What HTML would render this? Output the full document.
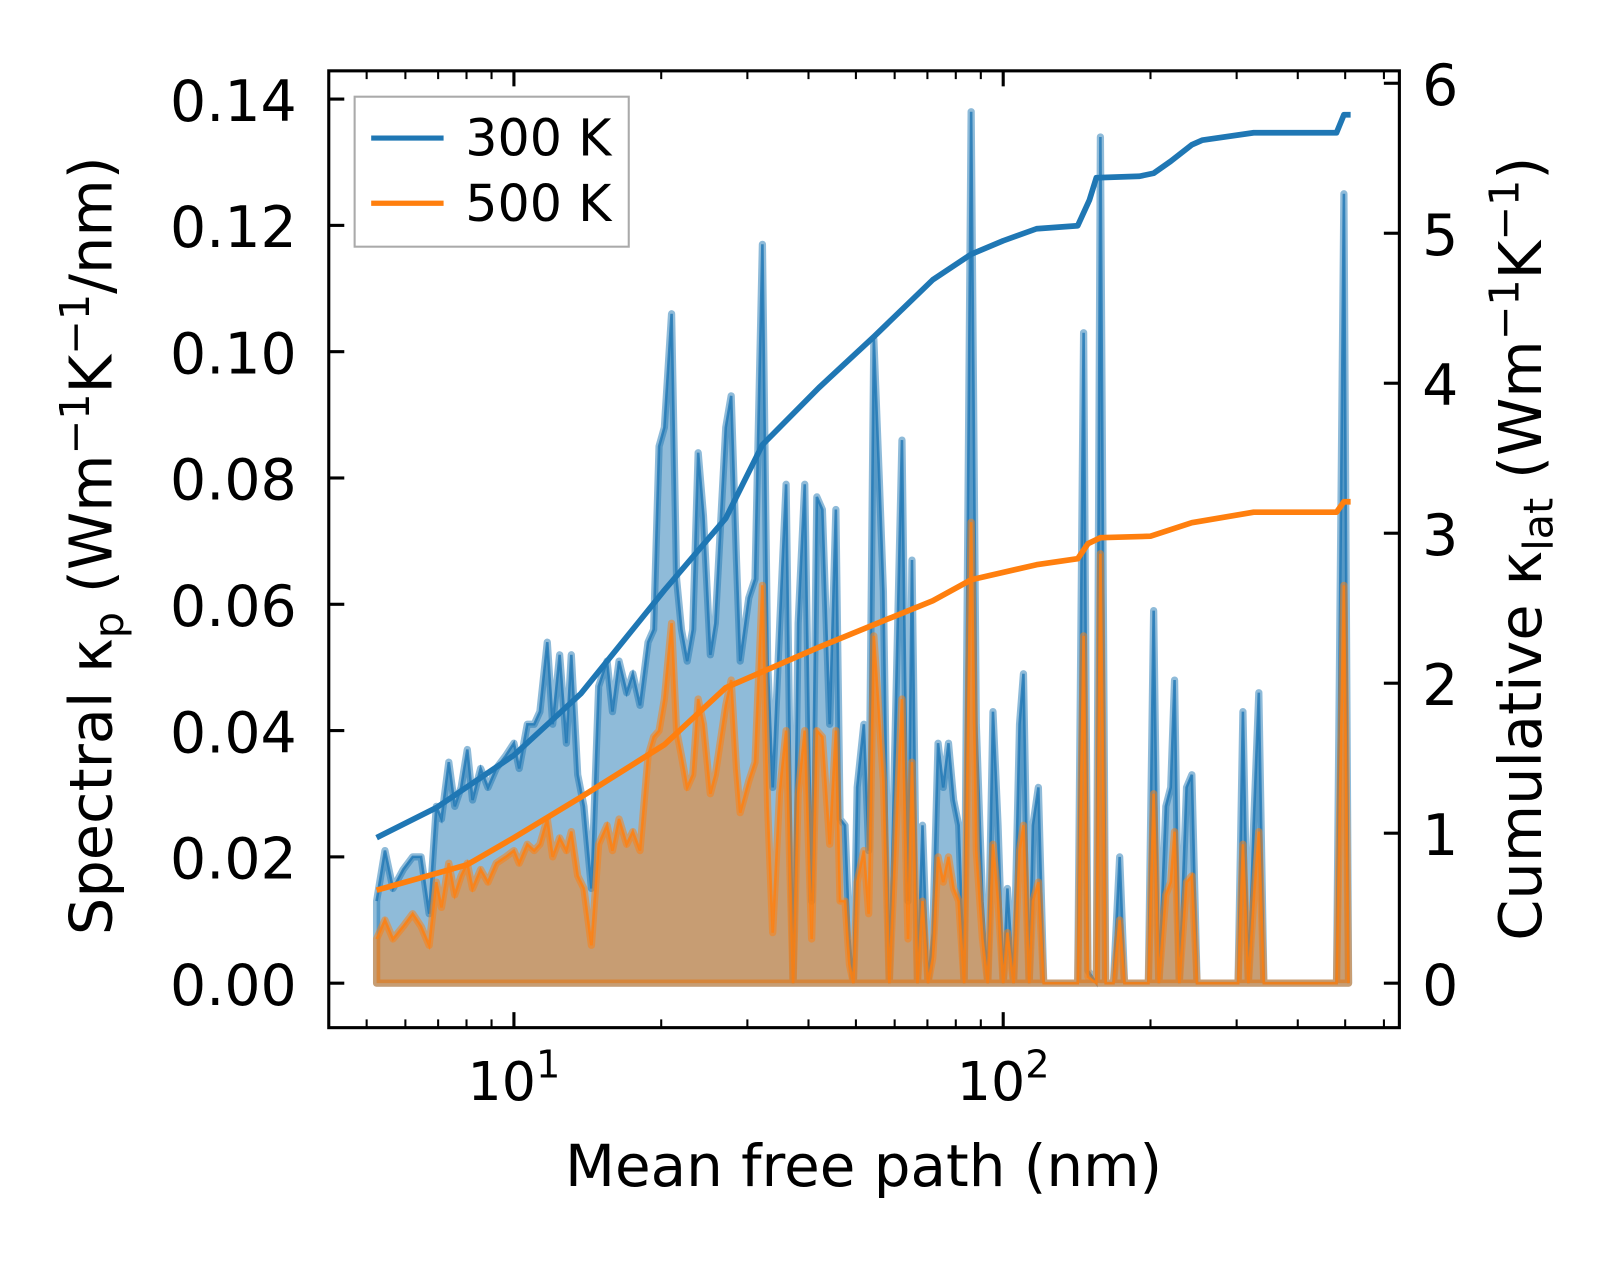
<!DOCTYPE html>
<html><head><meta charset="utf-8"><style>
body{margin:0;background:#fff}
svg text{font-family:"DejaVu Sans","Liberation Sans",sans-serif;fill:#000}
</style></head><body>
<svg id="chart" width="1623" height="1265" viewBox="0 0 1623 1265" xmlns="http://www.w3.org/2000/svg">
<g id="plot" transform="translate(1.9,0.5) scale(1.0344)"></g>
</svg>
<script>
const mfp=[5.24,5.45,5.66,5.94,6.21,6.46,6.71,6.94,7.11,7.36,7.57,7.80,8.03,8.23,8.55,8.85,9.20,9.62,10,10.25,10.65,11.0,11.3,11.7,12.0,12.4,12.8,13.1,13.5,13.9,14.4,14.9,15.5,15.9,16.4,17.0,17.5,18.1,18.8,19.3,19.8,20.3,21.0,21.5,22.0,22.6,23.2,23.8,24.4,25.2,25.8,27.1,27.8,28.5,29.0,30.2,31.1,32.2,33.0,33.8,34.9,36.0,37.2,38.1,39.3,40.6,41.6,42.7,44.2,45.5,46.4,47.5,48.5,49.4,50.3,51.9,53.1,54.4,55.8,56.9,58.5,60.5,62.1,63.9,65.1,66.8,68.4,70.2,71.8,73.6,75.4,77.3,79.2,81.1,83.2,86.0,88.1,90.7,93.0,95.3,97.6,100,102,105,108,110,113,115,118,121,142,146,149,155,158,162,168,173,177,181,198,203,208,215,220,224,229,237,243,249,255,302,309,317,325,333,341,480,497,508];
const spec300=[.013,.021,.015,.018,.020,.020,.011,.028,.026,.035,.028,.031,.037,.029,.034,.031,.034,.036,.038,.034,.041,.041,.043,.054,.041,.052,.038,.052,.033,.028,.015,.047,.051,.043,.051,.046,.049,.044,.054,.056,.085,.088,.106,.064,.056,.051,.056,.084,.074,.052,.057,.088,.093,.067,.051,.061,.064,.117,.051,.031,.056,.079,0,.057,.079,.013,.077,.075,.041,.075,.026,.025,.007,0,.031,.041,.021,.102,.080,.062,0,.048,.086,.013,.067,0,.025,0,.008,.038,.031,.038,.029,.025,0,.138,.041,.013,0,.043,.025,0,.015,0,.041,.049,0,.025,.031,0,0,.103,.002,0,.134,0,0,.020,0,0,0,.059,0,.028,.031,.048,0,.031,.033,0,0,0,.043,0,.025,.046,0,0,.125,0];
const spec500=[.007,.010,.007,.009,.011,.009,.006,.016,.012,.019,.014,.017,.019,.015,.018,.016,.019,.020,.021,.019,.022,.021,.022,.026,.020,.023,.021,.024,.017,.015,.006,.022,.025,.021,.026,.022,.024,.021,.036,.039,.040,.045,.057,.040,.036,.031,.033,.045,.041,.030,.033,.044,.048,.034,.027,.032,.035,.063,.028,.008,.030,.040,0,.030,.040,.007,.040,.039,.022,.040,.013,.013,.003,0,.016,.021,.011,.055,.042,.032,0,.025,.045,.007,.035,0,.013,0,.004,.020,.016,.020,.015,.013,0,.073,.021,.007,0,.022,.013,0,.008,0,.021,.025,0,.013,.016,0,0,.055,.001,0,.068,0,0,.010,0,0,0,.030,0,.014,.016,.024,0,.016,.017,0,0,0,.022,0,.013,.024,0,0,.063,0];
const cumX300=[5.24,6.94,10,13.7,20.3,27.1,32.2,42.0,54.4,71.8,86,100,117,142,150,155,190,203,220,243,255,325,480,497,513];
const cum300=[0.97,1.17,1.52,1.93,2.62,3.10,3.59,3.97,4.31,4.69,4.86,4.95,5.03,5.05,5.22,5.37,5.38,5.40,5.48,5.59,5.62,5.67,5.67,5.79,5.79];
const cumX500=[5.24,8.03,10,13.7,20.3,27.1,42.0,56.3,71.8,86,117,142,149,158,200,243,325,480,497,513];
const cum500=[0.62,0.79,0.97,1.24,1.59,1.97,2.24,2.41,2.55,2.69,2.79,2.83,2.93,2.97,2.98,3.07,3.14,3.14,3.21,3.21];
const leftTicks=[0,0.02,0.04,0.06,0.08,0.10,0.12,0.14];
const leftLabels=["0.00","0.02","0.04","0.06","0.08","0.10","0.12","0.14"];
const rightTicks=[0,1,2,3,4,5,6];

const L=316,R=1351,T=68,B=993;
const X=v=>495+(Math.log10(v)-1)*473;
const Y=v=>950-v/0.02*122.1;
const Y2=v=>950-v*145;
const NS="http://www.w3.org/2000/svg";
const g=document.getElementById('plot');
function mk(tag,attrs,parent){const e=document.createElementNS(NS,tag);for(const k in attrs)e.setAttribute(k,attrs[k]);(parent||g).appendChild(e);return e;}

function area(vals,color,name){
  let d=`M${X(mfp[0])},${Y(0)}`;
  mfp.forEach((m,i)=>{d+=`L${X(m)},${Y(vals[i])}`});
  d+=`L${X(mfp[mfp.length-1])},${Y(0)}Z`;
  const p=mk('path',{d:d,fill:color,'fill-opacity':0.5,stroke:color,'stroke-opacity':0.5,'stroke-width':7,'stroke-linejoin':'round'});
  
  
  let d2='';mfp.forEach((m,i)=>{d2+=(i?'L':'M')+X(m)+','+Y(vals[i])});
  const l=mk('path',{d:d2,fill:'none',stroke:color,'stroke-width':2.5,'stroke-opacity':0.8});
  
  
}
area(spec300,'#1f77b4','spectral-300k-area');
area(spec500,'#ff7f0e','spectral-500k-area');

function cline(xs,ys,color,name){
  let d='';xs.forEach((x,i)=>{d+=(i?'L':'M')+X(x)+','+Y2(ys[i])});
  const p=mk('path',{d:d,fill:'none',stroke:color,'stroke-width':5.5,'stroke-linejoin':'round'});
  
  
}
cline(cumX300,cum300,'#1f77b4','cumulative-300k-line');
cline(cumX500,cum500,'#ff7f0e','cumulative-500k-line');

const fr=mk('rect',{x:L,y:T,width:R-L,height:B-T,fill:'none',stroke:'#000','stroke-width':3});



leftTicks.forEach((v,i)=>{
  const y=Y(v);
  const t=mk('line',{x1:L,x2:L+15,y1:y,y2:y,stroke:'#000','stroke-width':3});
  
  
  const tx=mk('text',{x:L-31,y:y+21,'text-anchor':'end','font-size':55});
  tx.textContent=leftLabels[i];
  
  
});
rightTicks.forEach(v=>{
  const y=Y2(v);
  const t=mk('line',{x1:R-15,x2:R,y1:y,y2:y,stroke:'#000','stroke-width':3});
  
  
  const tx=mk('text',{x:R+22,y:y+21,'text-anchor':'start','font-size':55});
  tx.textContent=String(v);
  
  
});
for(let dec=0;dec<=2;dec++){for(let k=1;k<=9;k++){
  const v=k*Math.pow(10,dec);const x=X(v);
  if(x<L+2||x>R-2)continue;
  const len=k==1?15:8;
  [[B-len,B],[T,T+len]].forEach(([a,b])=>{
    const t=mk('line',{x1:x,x2:x,y1:a,y2:b,stroke:'#000','stroke-width':k==1?3:2});
    
    
  });
  if(k==1){
    const tx=mk('text',{x:x,y:1063,'text-anchor':'middle','font-size':52});
    tx.innerHTML='10<tspan dy="-22" font-size="37">'+dec+'</tspan>';
    
    
  }
}}
let t=mk('text',{x:833,y:1146,'text-anchor':'middle','font-size':56});
t.textContent='Mean free path (nm)';


t=mk('text',{x:0,y:0,'text-anchor':'middle','font-size':57,transform:'translate(106,527) rotate(-90)'});
t.innerHTML='Spectral κ<tspan dy="11" font-size="40">p</tspan><tspan dy="-11"> (Wm</tspan><tspan dy="-22" font-size="40">−1</tspan><tspan dy="22">K</tspan><tspan dy="-22" font-size="40">−1</tspan><tspan dy="22">/nm)</tspan>';


t=mk('text',{x:0,y:0,'text-anchor':'middle','font-size':57,transform:'translate(1488,530) rotate(-90)'});
t.innerHTML='Cumulative κ<tspan dy="11" font-size="40">lat</tspan><tspan dy="-11"> (Wm</tspan><tspan dy="-22" font-size="40">−1</tspan><tspan dy="22">K</tspan><tspan dy="-22" font-size="40">−1</tspan><tspan dy="22">)</tspan>';


const lg=mk('g',{});


mk('rect',{x:341,y:93,width:265,height:145,fill:'#fff','fill-opacity':0.8,stroke:'#aaa','stroke-width':2},lg);
[['300 K','#1f77b4',133],['500 K','#ff7f0e',196]].forEach(([lab,c,y])=>{
  const e=mk('g',{},lg);
  
  
  mk('line',{x1:357,x2:427,y1:y,y2:y,stroke:c,'stroke-width':5},e);
  const tx=mk('text',{x:448,y:y+17,'font-size':49},e);
  tx.textContent=lab;
});
</script>
</body></html>
